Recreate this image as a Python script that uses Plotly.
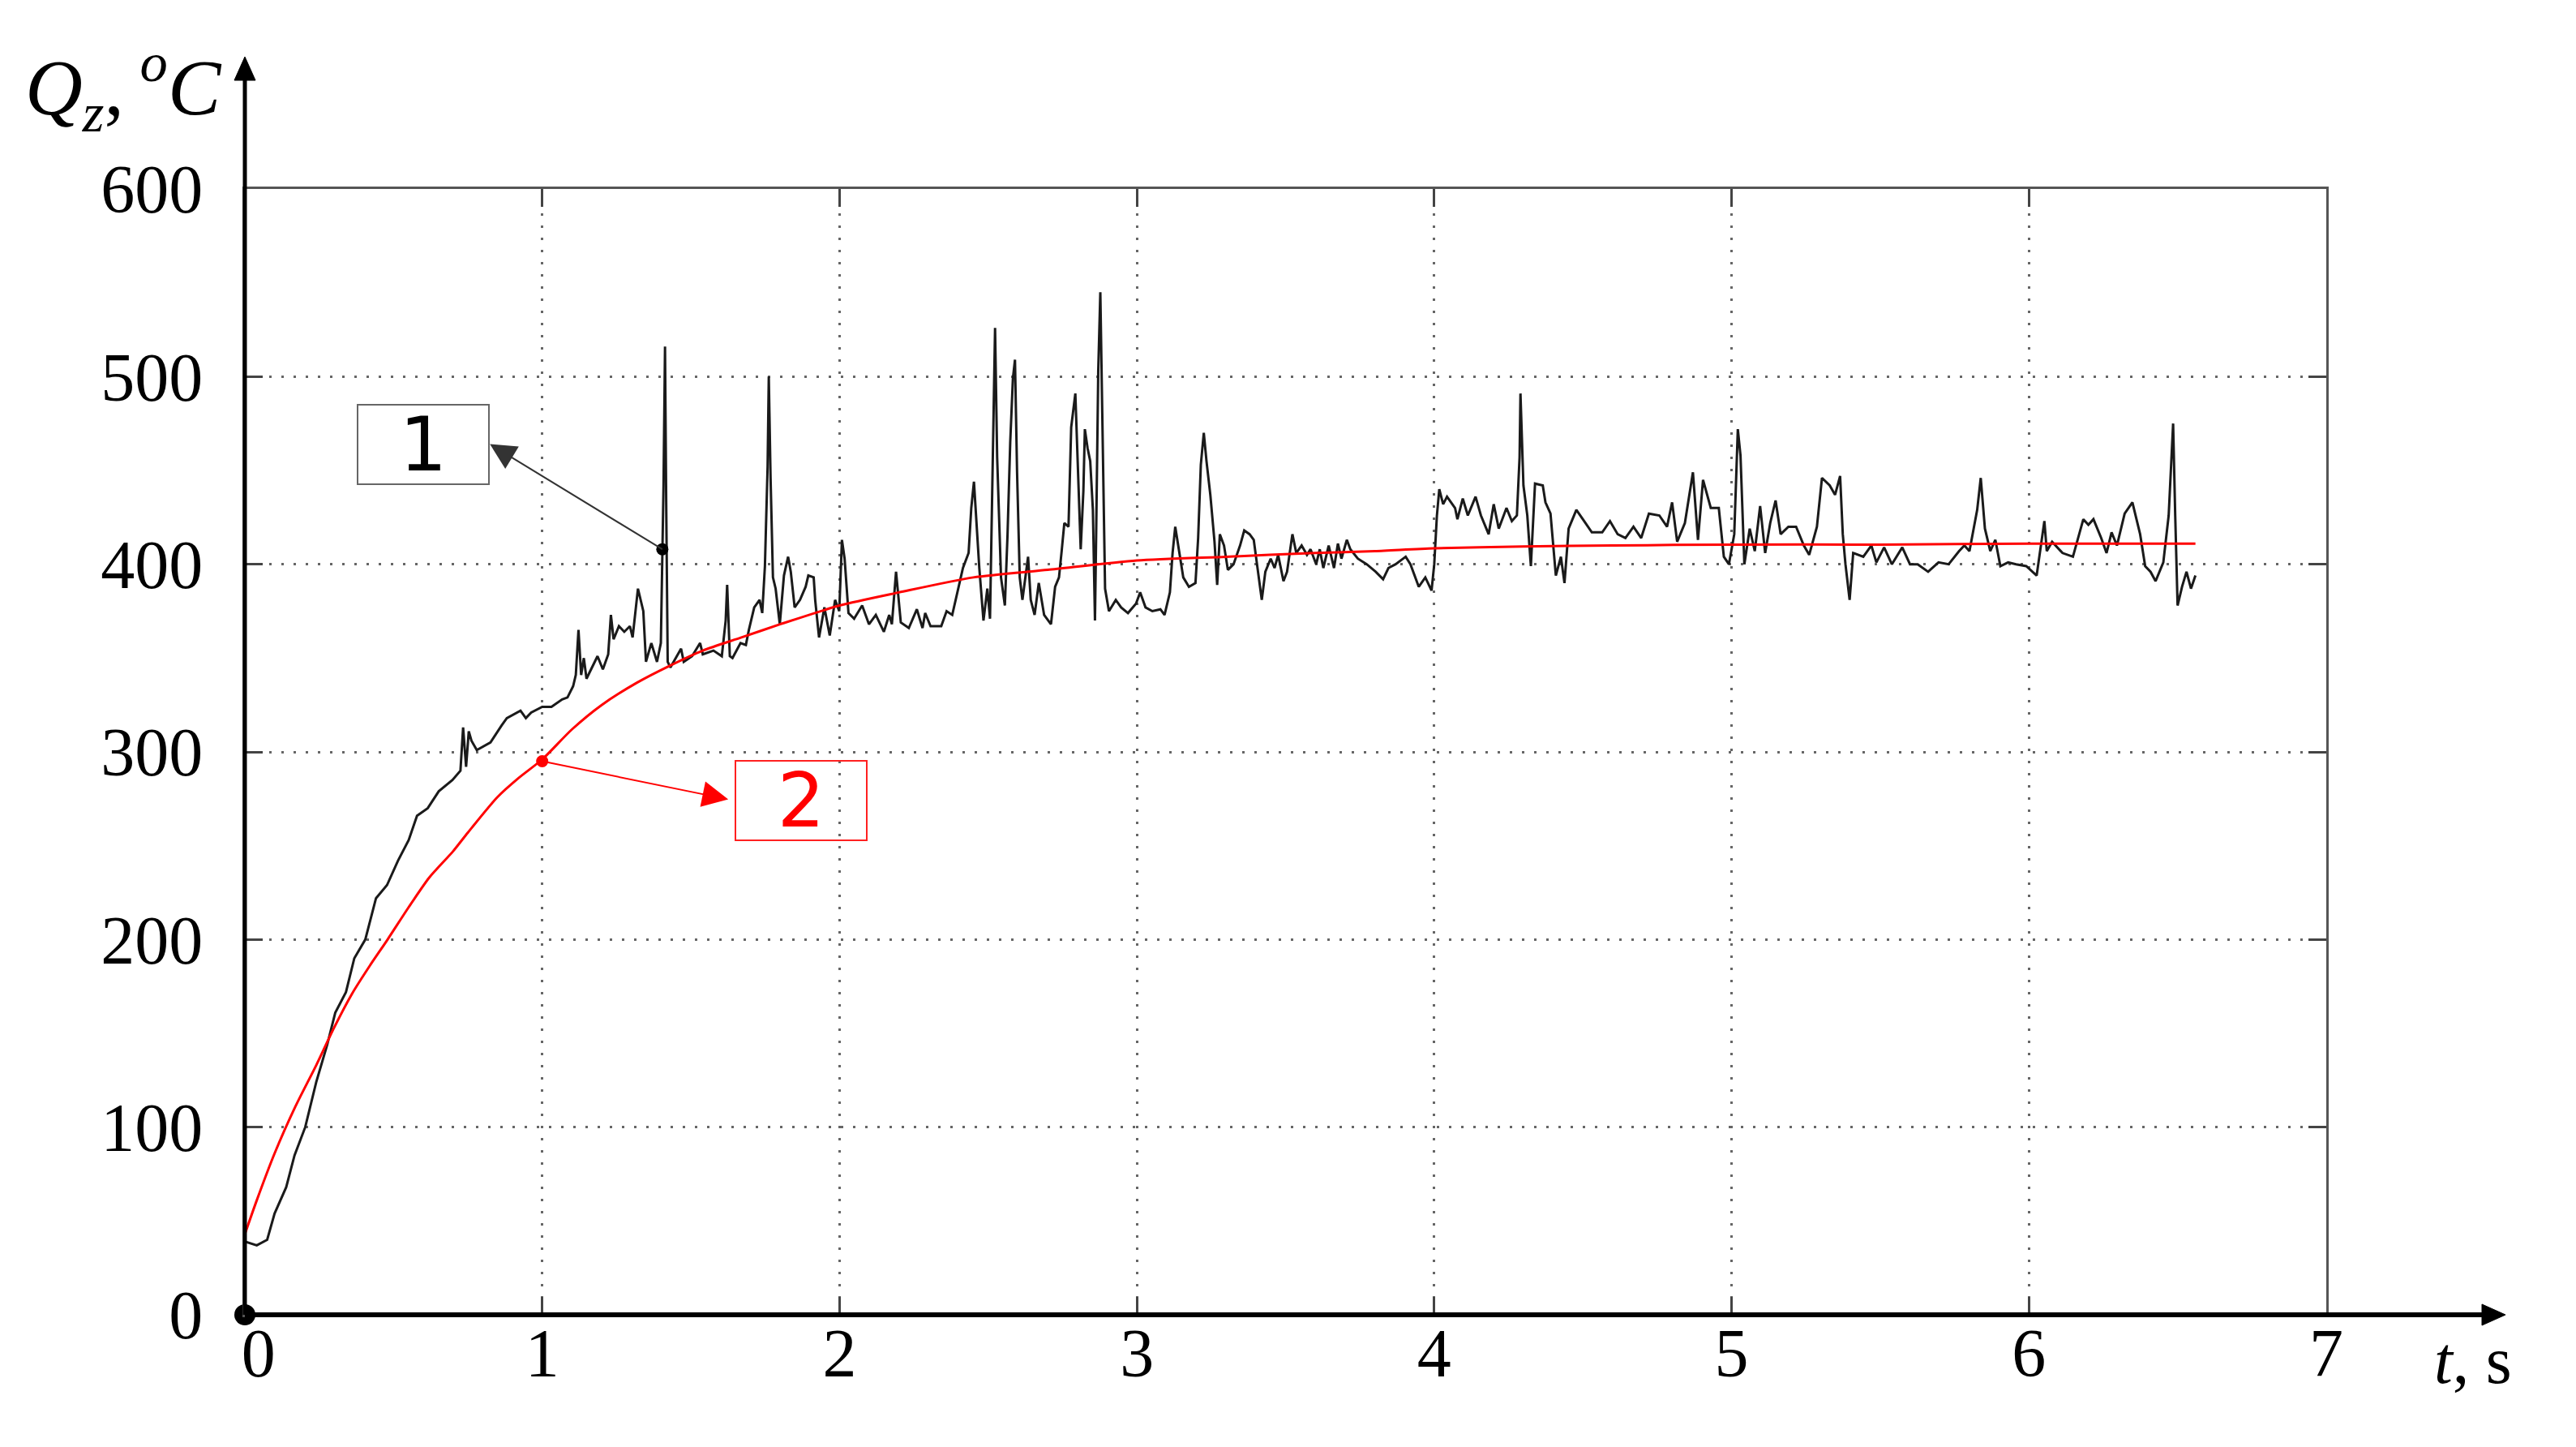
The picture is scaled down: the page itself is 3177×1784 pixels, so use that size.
import plotly.graph_objects as go

W, H = 3177, 1784
OFF = 8  # the page body margin shifts the figure by this much

t_meas = [0.00, 0.04, 0.075, 0.10, 0.139, 0.167, 0.203, 0.24, 0.277, 0.304, 0.34, 0.368, 0.405,
          0.441, 0.478, 0.515, 0.551, 0.579, 0.615, 0.652, 0.698, 0.725, 0.734, 0.744, 0.753,
          0.762, 0.78, 0.826, 0.863, 0.881, 0.927, 0.945, 0.963, 1.0, 1.031, 1.067, 1.085,
          1.104, 1.113, 1.122, 1.131, 1.14, 1.149, 1.167, 1.186, 1.204, 1.222, 1.231, 1.24,
          1.258, 1.276, 1.295, 1.304, 1.322, 1.34, 1.349, 1.367, 1.386, 1.399, 1.408, 1.413,
          1.417, 1.422, 1.431, 1.467, 1.476, 1.504, 1.531, 1.54, 1.576, 1.604, 1.617, 1.622,
          1.631, 1.64, 1.667, 1.685, 1.695, 1.713, 1.731, 1.74, 1.749, 1.758, 1.762, 1.768,
          1.776, 1.785, 1.799, 1.813, 1.827, 1.836, 1.849, 1.867, 1.886, 1.895, 1.913, 1.918,
          1.931, 1.949, 1.967, 1.985, 1.999, 2.008, 2.017, 2.03, 2.049, 2.076, 2.099, 2.122,
          2.149, 2.167, 2.176, 2.19, 2.206, 2.233, 2.26, 2.279, 2.288, 2.306, 2.342, 2.36,
          2.379, 2.397, 2.415, 2.434, 2.443, 2.452, 2.461, 2.47, 2.484, 2.497, 2.506, 2.515,
          2.523, 2.53, 2.543, 2.556, 2.565, 2.574, 2.583, 2.59, 2.597, 2.606, 2.615, 2.634,
          2.643, 2.656, 2.67, 2.688, 2.711, 2.725, 2.738, 2.747, 2.756, 2.77, 2.774, 2.779,
          2.793, 2.802, 2.811, 2.82, 2.825, 2.834, 2.843, 2.852, 2.859, 2.863, 2.87, 2.877,
          2.884, 2.893, 2.906, 2.929, 2.947, 2.97, 2.997, 3.011, 3.029, 3.052, 3.079, 3.093,
          3.111, 3.12, 3.129, 3.143, 3.156, 3.175, 3.197, 3.206, 3.215, 3.225, 3.234, 3.247,
          3.261, 3.27, 3.279, 3.293, 3.306, 3.325, 3.347, 3.361, 3.379, 3.393, 3.406, 3.42,
          3.432, 3.45, 3.463, 3.475, 3.493, 3.505, 3.523, 3.536, 3.554, 3.572, 3.584, 3.603,
          3.615, 3.627, 3.645, 3.663, 3.676, 3.688, 3.706, 3.718, 3.743, 3.773, 3.803, 3.828,
          3.846, 3.87, 3.904, 3.92, 3.948, 3.97, 3.991, 4.0, 4.009, 4.017, 4.03, 4.043, 4.07,
          4.078, 4.096, 4.113, 4.139, 4.157, 4.183, 4.2, 4.217, 4.243, 4.261, 4.278, 4.287,
          4.29, 4.3, 4.313, 4.325, 4.339, 4.365, 4.374, 4.391, 4.409, 4.426, 4.438, 4.452,
          4.478, 4.504, 4.53, 4.565, 4.591, 4.617, 4.643, 4.67, 4.696, 4.722, 4.757, 4.783,
          4.8, 4.817, 4.843, 4.87, 4.887, 4.904, 4.93, 4.957, 4.974, 4.991, 5.009, 5.021,
          5.03, 5.043, 5.061, 5.078, 5.096, 5.113, 5.13, 5.148, 5.165, 5.191, 5.217, 5.243,
          5.261, 5.287, 5.304, 5.33, 5.348, 5.365, 5.374, 5.383, 5.397, 5.409, 5.443, 5.47,
          5.487, 5.513, 5.539, 5.574, 5.6, 5.626, 5.661, 5.696, 5.73, 5.765, 5.783, 5.8,
          5.826, 5.838, 5.852, 5.87, 5.887, 5.904, 5.93, 5.957, 5.991, 6.026, 6.052, 6.06,
          6.078, 6.113, 6.148, 6.183, 6.2, 6.217, 6.243, 6.261, 6.278, 6.296, 6.322, 6.348,
          6.374, 6.391, 6.409, 6.426, 6.452, 6.47, 6.485, 6.492, 6.5, 6.515, 6.53, 6.545, 6.56]
q_meas = [39, 37, 40, 54, 68, 85, 100, 124, 144, 161, 172, 190, 200,
          222, 229, 242, 253, 266, 270, 279, 285, 290, 313, 292, 311,
          306, 301, 305, 314, 318, 322, 318, 321, 324, 324, 328, 329,
          335, 341, 365, 341, 350, 339, 345, 351, 344, 352, 373, 360,
          367, 364, 367, 361, 387, 375, 348, 358, 348, 358, 442, 516,
          433, 348, 345, 355, 348, 351, 358, 352, 354, 351, 370, 389,
          351, 350, 358, 357, 365, 377, 381, 374, 399, 452, 500, 446,
          393, 387, 368, 394, 404, 396, 377, 381, 388, 394, 393, 381,
          361, 377, 362, 381, 375, 413, 403, 374, 371, 378, 368, 373,
          364, 373, 368, 396, 369, 366, 376, 366, 374, 367, 367, 375,
          373, 385, 398, 406, 430, 444, 420, 398, 370, 387, 371, 448,
          526, 457, 393, 378, 416, 465, 499, 509, 449, 393, 381, 404,
          381, 373, 390, 373, 368, 388, 393, 407, 422, 420, 443, 473,
          491, 451, 408, 439, 472, 462, 455, 429, 370, 416, 503, 545,
          466, 387, 375, 381, 377, 374, 379, 385, 377, 375, 376, 373,
          385, 406, 420, 406, 393, 388, 390, 414, 453, 470, 455, 437,
          412, 389, 416, 410, 397, 400, 410, 418, 416, 413, 397, 381,
          396, 403, 398, 405, 391, 396, 416, 406, 410, 405, 408, 400,
          408, 398, 410, 398, 411, 403, 413, 408, 403, 400, 396, 392,
          398, 400, 404, 400, 388, 393, 386, 400, 426, 440, 432, 436, 430,
          424, 435, 426, 436, 426, 416, 432, 419, 430, 423, 426, 457,
          491, 442, 426, 399, 443, 442, 433, 427, 394, 404, 390, 419,
          429, 423, 417, 417, 423, 416, 414, 420, 414, 427, 426, 420,
          433, 412, 422, 449, 413, 445, 430, 430, 404, 400, 416, 472,
          458, 400, 419, 407, 431, 406, 422, 434, 416, 420, 420, 410,
          405, 420, 446, 442, 437, 447, 416, 400, 381, 406, 404, 410,
          401, 409, 400, 409, 400, 400, 396, 401, 400, 407, 410, 407,
          429, 446, 419, 407, 413, 399, 401, 400, 399, 394, 423, 407,
          412, 406, 404, 424, 421, 424, 414, 406, 417, 410, 427, 433,
          416, 399, 396, 391, 401, 426, 475, 426, 378, 388, 396, 387, 394]

# curve 2 - model
t_model = [0.0, 0.04, 0.1, 0.17, 0.24, 0.3, 0.36, 0.42, 0.48, 0.55, 0.62, 0.7, 0.75, 0.85,
           0.92, 1.0, 1.1, 1.2, 1.32, 1.43, 1.54, 1.67, 1.8, 2.0, 2.2, 2.45, 2.7, 3.0, 3.3,
           3.6, 3.8, 4.0, 4.3, 4.6, 5.0, 5.5, 6.0, 6.56]
q_model = [43, 61, 86, 111, 133, 153, 171, 186, 200, 217, 233, 247, 257, 276,
           286, 296, 312, 325, 337, 346, 354, 361, 368, 378, 385, 393, 397, 402, 404,
           406, 407, 408.5, 409.5, 410, 410.5, 410.5, 411, 411]

x_ticks = [0, 1, 2, 3, 4, 5, 6, 7]
x_labels = ['\u2009\u20090', '1', '2', '3', '4', '5', '6', '7']
y_ticks = [0, 100, 200, 300, 400, 500, 600]

# marked points and where the label boxes sit (edge facing the arrow)
mark1 = (1.404, 408)
mark2 = (1.0, 295)
edge1 = (0.824, 464)
edge2 = (1.647, 274)

# frame in pixels (as measured on the reference)
X0, X1 = 302, 2869
Y0, Y1 = 1621, 233


def pp(x, y):
    return (x - OFF) / W, 1 - (y - OFF) / H


def tri(pts):
    s = []
    for i, (x, y) in enumerate(pts):
        a, b = pp(x, y)
        s.append(('M' if i == 0 else 'L') + f' {a:.5f},{b:.5f}')
    return ' '.join(s) + ' Z'


fig = go.Figure()

fig.add_trace(go.Scatter(
    x=t_meas, y=q_meas, mode='lines',
    line=dict(color='#1a1a1a', width=3),
))
fig.add_trace(go.Scatter(
    x=t_model, y=q_model, mode='lines',
    line=dict(color='#ff0000', width=3, shape='spline', smoothing=0.7),
))
fig.add_trace(go.Scatter(
    x=[mark1[0]], y=[mark1[1]], mode='markers',
    marker=dict(color='black', size=15),
))
fig.add_trace(go.Scatter(
    x=[mark2[0]], y=[mark2[1]], mode='markers',
    marker=dict(color='#ff0000', size=15),
))
# dot at the origin
fig.add_trace(go.Scatter(
    x=[0], y=[0], mode='markers', cliponaxis=False,
    marker=dict(color='black', size=26),
))

axis_style = dict(
    automargin=False,
    showline=True, mirror='ticks', linecolor='#555', linewidth=3,
    ticks='inside', ticklen=22, tickwidth=3, tickcolor='#444',
    showgrid=True, gridcolor='#666', gridwidth=3, griddash='3px,12px',
    zeroline=False,
    tickfont=dict(family='Liberation Serif', size=84, color='black'),
)

xd0, yd0 = pp(X0, Y0)
xd1, yd1 = pp(X1, Y1)
fig.update_xaxes(axis_style, range=[0, 7], tickvals=x_ticks, ticktext=x_labels,
                 domain=[xd0, xd1], ticklabelstandoff=-28)
fig.update_yaxes(axis_style, range=[0, 600], tickvals=y_ticks,
                 domain=[yd0, yd1], ticklabelstandoff=32)

# black axes with arrows
shapes = []
ax1, ay1 = pp(X0, 92)
shapes.append(dict(type='line', xref='paper', yref='paper', x0=xd0, y0=yd0, x1=ax1, y1=ay1,
                   line=dict(color='black', width=5)))
bx1, by1 = pp(3066, Y0)
shapes.append(dict(type='line', xref='paper', yref='paper', x0=xd0, y0=yd0, x1=bx1, y1=by1,
                   line=dict(color='black', width=6)))
shapes.append(dict(type='path', xref='paper', yref='paper',
                   path=tri([(X0, 70), (X0 - 13, 99), (X0 + 13, 99)]),
                   fillcolor='black', line=dict(color='black', width=1)))
shapes.append(dict(type='path', xref='paper', yref='paper',
                   path=tri([(3090, Y0), (3061, Y0 - 13), (3061, Y0 + 13)]),
                   fillcolor='black', line=dict(color='black', width=1)))

annotations = []
# axis titles
qx, qy = pp(276, 108)
annotations.append(dict(
    x=qx, y=qy, xref='paper', yref='paper', xanchor='right', yanchor='middle',
    text='<i>Q<sub>z</sub></i>,\u2009<sup><i>o</i></sup><i>C</i>', showarrow=False,
    font=dict(family='Liberation Serif', size=98, color='black'),
))
tx, ty = pp(3050, 1677)
annotations.append(dict(
    x=tx, y=ty, xref='paper', yref='paper', xanchor='center', yanchor='middle',
    text='<i>t</i>, s', showarrow=False,
    font=dict(family='Liberation Serif', size=82, color='black'),
))

# label boxes, each with its leader arrow back to the marked point
annotations.append(dict(
    x=mark1[0], y=mark1[1], xref='x', yref='y',
    ax=edge1[0], ay=edge1[1], axref='x', ayref='y',
    xanchor='right', yanchor='middle',
    text='1', showarrow=True, arrowside='start',
    startarrowhead=2, startarrowsize=3.2, arrowwidth=2, arrowcolor='#333',
    width=160, height=96, borderpad=0, bordercolor='#666', borderwidth=2,
    font=dict(family='DejaVu Sans', size=92, color='black'),
))
annotations.append(dict(
    x=mark2[0], y=mark2[1], xref='x', yref='y',
    ax=edge2[0], ay=edge2[1], axref='x', ayref='y',
    xanchor='left', yanchor='middle',
    text='2', showarrow=True, arrowside='start', startstandoff=8,
    startarrowhead=2, startarrowsize=3.2, arrowwidth=2, arrowcolor='#ff0000',
    width=160, height=96, borderpad=0, bordercolor='#ff2020', borderwidth=2,
    font=dict(family='DejaVu Sans', size=92, color='#ff0000'),
))

fig.update_layout(
    width=W, height=H,
    margin=dict(l=0, r=0, t=0, b=0),
    plot_bgcolor='white', paper_bgcolor='white',
    showlegend=False,
    shapes=shapes,
    annotations=annotations,
)

fig.write_html('out.html')
